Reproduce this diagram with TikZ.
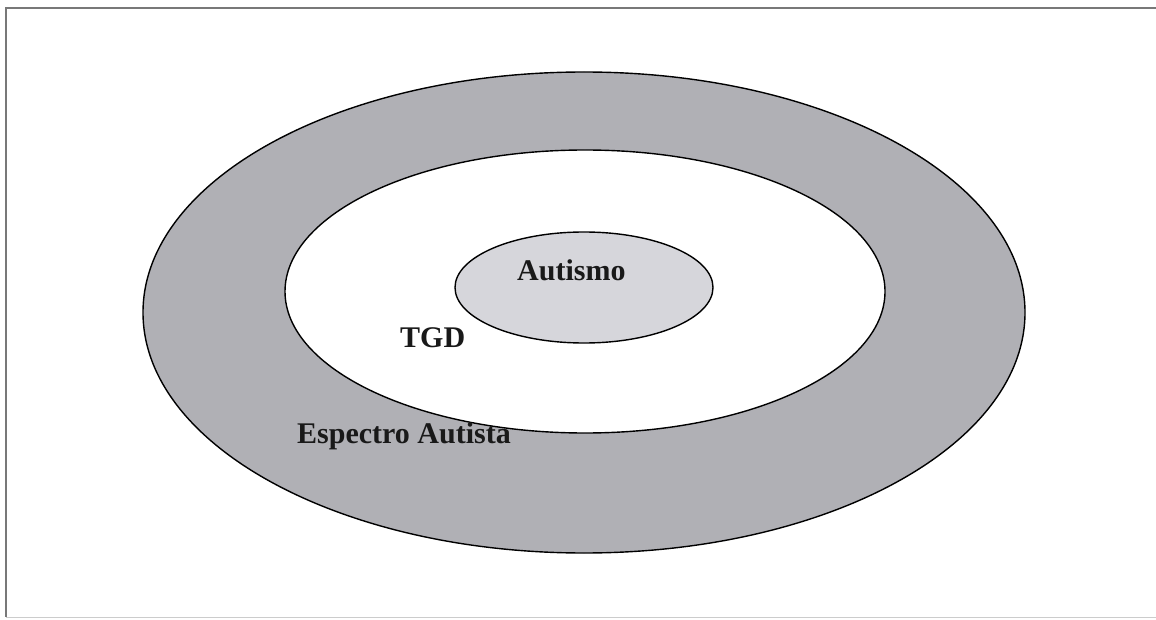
\documentclass[tikz,border=0pt]{standalone}
\usepackage{fontspec}
\setmainfont{Liberation Serif}
\usetikzlibrary{shapes.geometric}
\definecolor{ringgray}{RGB}{176,176,181}
\definecolor{coregray}{RGB}{214,214,219}
\definecolor{framegray}{RGB}{120,120,120}
\tikzset{
  ell/.style={ellipse, draw=black, line width=1.4pt, inner sep=0pt},
  lbl/.style={anchor=base west, inner sep=0pt, font=\fontsize{30}{36}\selectfont\bfseries, text=black!90}
}
\begin{document}
\begin{tikzpicture}[x=1pt,y=-1pt]
\useasboundingbox (0,0) rectangle (1156,620);
\fill[white] (0,0) rectangle (1156,620);
% frame
\draw[framegray, line width=2pt] (1156,8) -- (6,8) -- (6,617);
\draw[black!20, line width=1pt] (6,617) -- (1156,617);
% ellipses
\node[ell, fill=ringgray, minimum width=882pt, minimum height=481pt] (outer) at (584,312.5) {};
\node[ell, fill=white, minimum width=600pt, minimum height=283pt] (mid) at (585,291.5) {};
\node[ell, fill=coregray, minimum width=258pt, minimum height=111pt] (core) at (584,287.5) {};
% labels
\node[lbl] (autismo) at (517,280) {Autismo};
\node[lbl] (tgd) at (400,347) {TGD};
\node[lbl] (esp) at (297,443) {Espectro Autista};
\end{tikzpicture}
\end{document}
